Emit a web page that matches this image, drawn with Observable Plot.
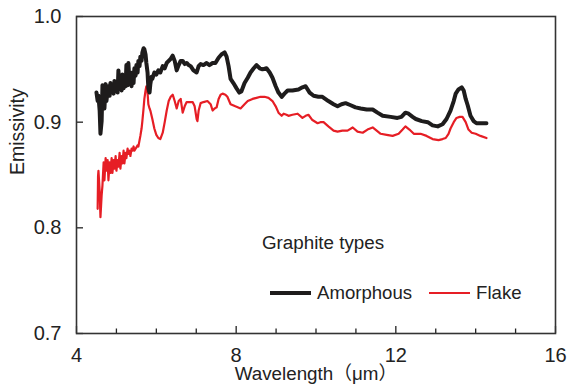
<!DOCTYPE html>
<html>
<head>
<meta charset="utf-8">
<script src="https://cdn.jsdelivr.net/npm/d3@7"></script>
<script src="https://cdn.jsdelivr.net/npm/@observablehq/plot@0.6"></script>
<style>
  html, body { margin: 0; padding: 0; background: #fff; }
  #wrap { position: relative; width: 568px; height: 392px; font-family: "Liberation Sans", Arial, "Noto Sans CJK JP", sans-serif; color: #222; }
  #wrap svg { display: block; }
  .legend-title { position: absolute; left: 262px; top: 233px; font-size: 18.8px; line-height: 19px; white-space: nowrap; }
  .legend-row { position: absolute; left: 270px; top: 283px; font-size: 18.6px; line-height: 19px; display: flex; align-items: center; white-space: nowrap; }
  .legend-row .item { display: flex; align-items: center; }
  .legend-row .item + .item { margin-left: 17px; }
  .legend-row svg { margin-right: 6px; }
</style>
</head>
<body>
<div id="wrap"></div>
<script>
// Spectral emissivity of two graphite types versus wavelength (μm)
const seriesNames = ["Amorphous", "Flake"];
const seriesColors = ["#1e1c1c", "#e61e25"];
const seriesWidths = [4, 2.2];

const amorphousWavelength = [
  4.50, 4.53, 4.55, 4.58, 4.60, 4.63, 4.65, 4.68, 4.70, 4.73, 4.75, 4.78, 4.80, 4.83, 4.85, 4.88,
  4.90, 4.93, 4.95, 4.98, 5.00, 5.03, 5.05, 5.08, 5.10, 5.13, 5.15, 5.18, 5.20, 5.23, 5.25, 5.28,
  5.30, 5.33, 5.35, 5.38, 5.40, 5.43, 5.45, 5.48, 5.50, 5.53, 5.55, 5.58, 5.60, 5.63, 5.65, 5.68,
  5.70, 5.73, 5.75, 5.78, 5.80, 5.83, 5.85, 5.88, 5.90, 5.95, 6.00, 6.05, 6.10, 6.16, 6.21, 6.26,
  6.31, 6.36, 6.41, 6.46, 6.51, 6.56, 6.61, 6.66, 6.71, 6.76, 6.81, 6.86, 6.93, 7.01, 7.06, 7.11,
  7.18, 7.26, 7.33, 7.41, 7.48, 7.56, 7.63, 7.71, 7.76, 7.81, 7.86, 7.93, 8.01, 8.08, 8.13, 8.21,
  8.29, 8.36, 8.44, 8.51, 8.59, 8.66, 8.76, 8.84, 8.91, 8.99, 9.06, 9.14, 9.21, 9.29, 9.41, 9.56,
  9.66, 9.74, 9.84, 9.94, 10.06, 10.16, 10.31, 10.44, 10.54, 10.64, 10.74, 10.87, 10.99, 11.12, 11.27, 11.42,
  11.54, 11.67, 11.87, 12.04, 12.14, 12.24, 12.32, 12.42, 12.50, 12.65, 12.80, 12.92, 13.05, 13.17, 13.27, 13.37,
  13.45, 13.50, 13.57, 13.65, 13.70, 13.75, 13.80, 13.87, 13.95, 14.02, 14.12, 14.27
];
const amorphousEmissivity = [
  0.928, 0.920, 0.925, 0.911, 0.889, 0.901, 0.935, 0.932, 0.913, 0.936, 0.920, 0.930, 0.934, 0.925, 0.937, 0.928,
  0.934, 0.927, 0.939, 0.930, 0.936, 0.928, 0.949, 0.932, 0.937, 0.930, 0.945, 0.932, 0.939, 0.934, 0.954, 0.935,
  0.956, 0.936, 0.943, 0.934, 0.947, 0.937, 0.951, 0.944, 0.954, 0.947, 0.958, 0.953, 0.962, 0.958, 0.966, 0.970,
  0.969, 0.964, 0.956, 0.947, 0.932, 0.928, 0.936, 0.943, 0.941, 0.947, 0.945, 0.949, 0.947, 0.953, 0.951, 0.956,
  0.958, 0.960, 0.963, 0.958, 0.949, 0.954, 0.958, 0.958, 0.955, 0.956, 0.954, 0.953, 0.949, 0.947, 0.953, 0.955,
  0.954, 0.956, 0.954, 0.956, 0.956, 0.961, 0.964, 0.966, 0.962, 0.953, 0.941, 0.937, 0.932, 0.928, 0.929, 0.937,
  0.942, 0.947, 0.951, 0.954, 0.951, 0.950, 0.951, 0.947, 0.942, 0.934, 0.928, 0.924, 0.927, 0.930, 0.930, 0.931,
  0.933, 0.934, 0.928, 0.925, 0.924, 0.924, 0.920, 0.917, 0.915, 0.917, 0.918, 0.916, 0.914, 0.913, 0.912, 0.912,
  0.909, 0.906, 0.905, 0.904, 0.905, 0.909, 0.908, 0.905, 0.903, 0.901, 0.900, 0.897, 0.896, 0.898, 0.903, 0.911,
  0.920, 0.927, 0.931, 0.933, 0.930, 0.922, 0.916, 0.906, 0.901, 0.899, 0.899, 0.899
];

const flakeWavelength = [
  4.53, 4.54, 4.55, 4.58, 4.60, 4.63, 4.65, 4.68, 4.70, 4.73, 4.75, 4.78, 4.80, 4.83, 4.85, 4.88,
  4.90, 4.93, 4.95, 4.98, 5.00, 5.03, 5.05, 5.08, 5.10, 5.13, 5.15, 5.18, 5.20, 5.23, 5.25, 5.28,
  5.30, 5.33, 5.35, 5.38, 5.40, 5.43, 5.45, 5.48, 5.50, 5.53, 5.55, 5.58, 5.60, 5.63, 5.65, 5.68,
  5.70, 5.73, 5.75, 5.78, 5.80, 5.83, 5.85, 5.90, 5.95, 6.00, 6.05, 6.10, 6.16, 6.21, 6.26, 6.31,
  6.36, 6.41, 6.46, 6.51, 6.56, 6.61, 6.66, 6.71, 6.76, 6.86, 6.91, 6.96, 7.01, 7.03, 7.06, 7.11,
  7.18, 7.28, 7.36, 7.41, 7.46, 7.51, 7.56, 7.61, 7.66, 7.73, 7.78, 7.86, 7.98, 8.11, 8.21, 8.29,
  8.41, 8.51, 8.61, 8.71, 8.81, 8.91, 8.99, 9.06, 9.14, 9.19, 9.26, 9.31, 9.41, 9.54, 9.66, 9.74,
  9.81, 9.91, 10.04, 10.11, 10.19, 10.31, 10.44, 10.54, 10.66, 10.79, 10.92, 11.04, 11.17, 11.29, 11.42, 11.52,
  11.62, 11.77, 11.92, 12.07, 12.17, 12.24, 12.34, 12.45, 12.62, 12.77, 12.92, 13.07, 13.17, 13.25, 13.32, 13.37,
  13.45, 13.52, 13.60, 13.67, 13.75, 13.82, 13.90, 14.00, 14.12, 14.27
];
const flakeEmissivity = [
  0.818, 0.849, 0.854, 0.835, 0.810, 0.831, 0.840, 0.862, 0.845, 0.866, 0.854, 0.864, 0.845, 0.862, 0.852, 0.866,
  0.852, 0.864, 0.856, 0.868, 0.854, 0.864, 0.858, 0.871, 0.856, 0.868, 0.861, 0.873, 0.861, 0.871, 0.866, 0.875,
  0.870, 0.873, 0.868, 0.875, 0.873, 0.877, 0.873, 0.875, 0.876, 0.878, 0.877, 0.883, 0.887, 0.894, 0.901, 0.913,
  0.922, 0.930, 0.934, 0.928, 0.917, 0.913, 0.911, 0.903, 0.894, 0.888, 0.885, 0.884, 0.890, 0.900, 0.911, 0.920,
  0.924, 0.926, 0.920, 0.913, 0.920, 0.922, 0.909, 0.915, 0.919, 0.919, 0.919, 0.915, 0.903, 0.901, 0.911, 0.918,
  0.919, 0.920, 0.917, 0.911, 0.913, 0.914, 0.922, 0.926, 0.927, 0.926, 0.924, 0.917, 0.915, 0.913, 0.917, 0.920,
  0.922, 0.923, 0.924, 0.924, 0.923, 0.920, 0.915, 0.909, 0.906, 0.908, 0.907, 0.906, 0.907, 0.908, 0.904, 0.906,
  0.907, 0.902, 0.899, 0.900, 0.900, 0.896, 0.892, 0.891, 0.892, 0.892, 0.895, 0.891, 0.890, 0.893, 0.895, 0.892,
  0.889, 0.888, 0.887, 0.889, 0.893, 0.896, 0.893, 0.889, 0.889, 0.887, 0.884, 0.883, 0.884, 0.885, 0.889, 0.894,
  0.900, 0.904, 0.905, 0.905, 0.900, 0.893, 0.890, 0.889, 0.887, 0.885
];

// Axis ticks and titles
const xMajorTicks = [4, 8, 12, 16];
const xMinorTicks = [5, 6, 7, 9, 10, 11, 13, 14, 15];
const yTicks = [0.7, 0.8, 0.9, 1.0];
const xTitle = "Wavelength（μm）";
const yTitle = "Emissivity";
const legendTitle = "Graphite types";

const rows = (wl, em, name) => wl.map((w, i) => ({wavelength: w, emissivity: em[i], type: name}));
const amorphous = rows(amorphousWavelength, amorphousEmissivity, seriesNames[0]);
const flake = rows(flakeWavelength, flakeEmissivity, seriesNames[1]);

const chart = Plot.plot({
  width: 568,
  height: 392,
  marginLeft: 76,
  marginRight: 13,
  marginTop: 16,
  marginBottom: 59,
  style: {fontFamily: "'Liberation Sans', Arial, 'Noto Sans CJK JP', sans-serif", fontSize: "20px", color: "#222", background: "#fff"},
  x: {domain: [4, 16]},
  y: {domain: [0.7, 1.0]},
  marks: [
    Plot.axisX({ticks: xMajorTicks, tickSize: -7, tickPadding: 21, tickFormat: d => String(d), label: null, strokeWidth: 1.3}),
    Plot.axisX({ticks: xMinorTicks, tickSize: -4.5, text: null, label: null, strokeWidth: 1.3}),
    Plot.axisY({ticks: yTicks, tickSize: -7, tickPadding: 22, tickFormat: d => d.toFixed(1), label: null, strokeWidth: 1.3}),
    Plot.frame({stroke: "#333", strokeWidth: 1.6}),
    Plot.line(flake, {x: "wavelength", y: "emissivity", stroke: seriesColors[1], strokeWidth: seriesWidths[1], strokeLinejoin: "round"}),
    Plot.line(amorphous, {x: "wavelength", y: "emissivity", stroke: seriesColors[0], strokeWidth: seriesWidths[0], strokeLinejoin: "round"}),
    Plot.text([xTitle], {frameAnchor: "bottom", dy: 46, fontSize: 18.8, fill: "#222"}),
    Plot.text([yTitle], {frameAnchor: "left", dx: -59, rotate: -90, fontSize: 19.5, fill: "#222"})
  ]
});

const wrap = document.getElementById("wrap");
wrap.appendChild(chart);

// Legend drawn inside the plot area
const title = document.createElement("div");
title.className = "legend-title";
title.textContent = legendTitle;
wrap.appendChild(title);

const row = document.createElement("div");
row.className = "legend-row";
seriesNames.forEach((name, i) => {
  const item = document.createElement("div");
  item.className = "item";
  const sw = d3.create("svg").attr("width", 41).attr("height", 6);
  sw.append("line").attr("x1", 0).attr("x2", 41).attr("y1", 3).attr("y2", 3)
    .attr("stroke", seriesColors[i]).attr("stroke-width", seriesWidths[i]);
  item.appendChild(sw.node());
  const label = document.createElement("span");
  label.textContent = name;
  item.appendChild(label);
  row.appendChild(item);
});
wrap.appendChild(row);
</script>
</body>
</html>
